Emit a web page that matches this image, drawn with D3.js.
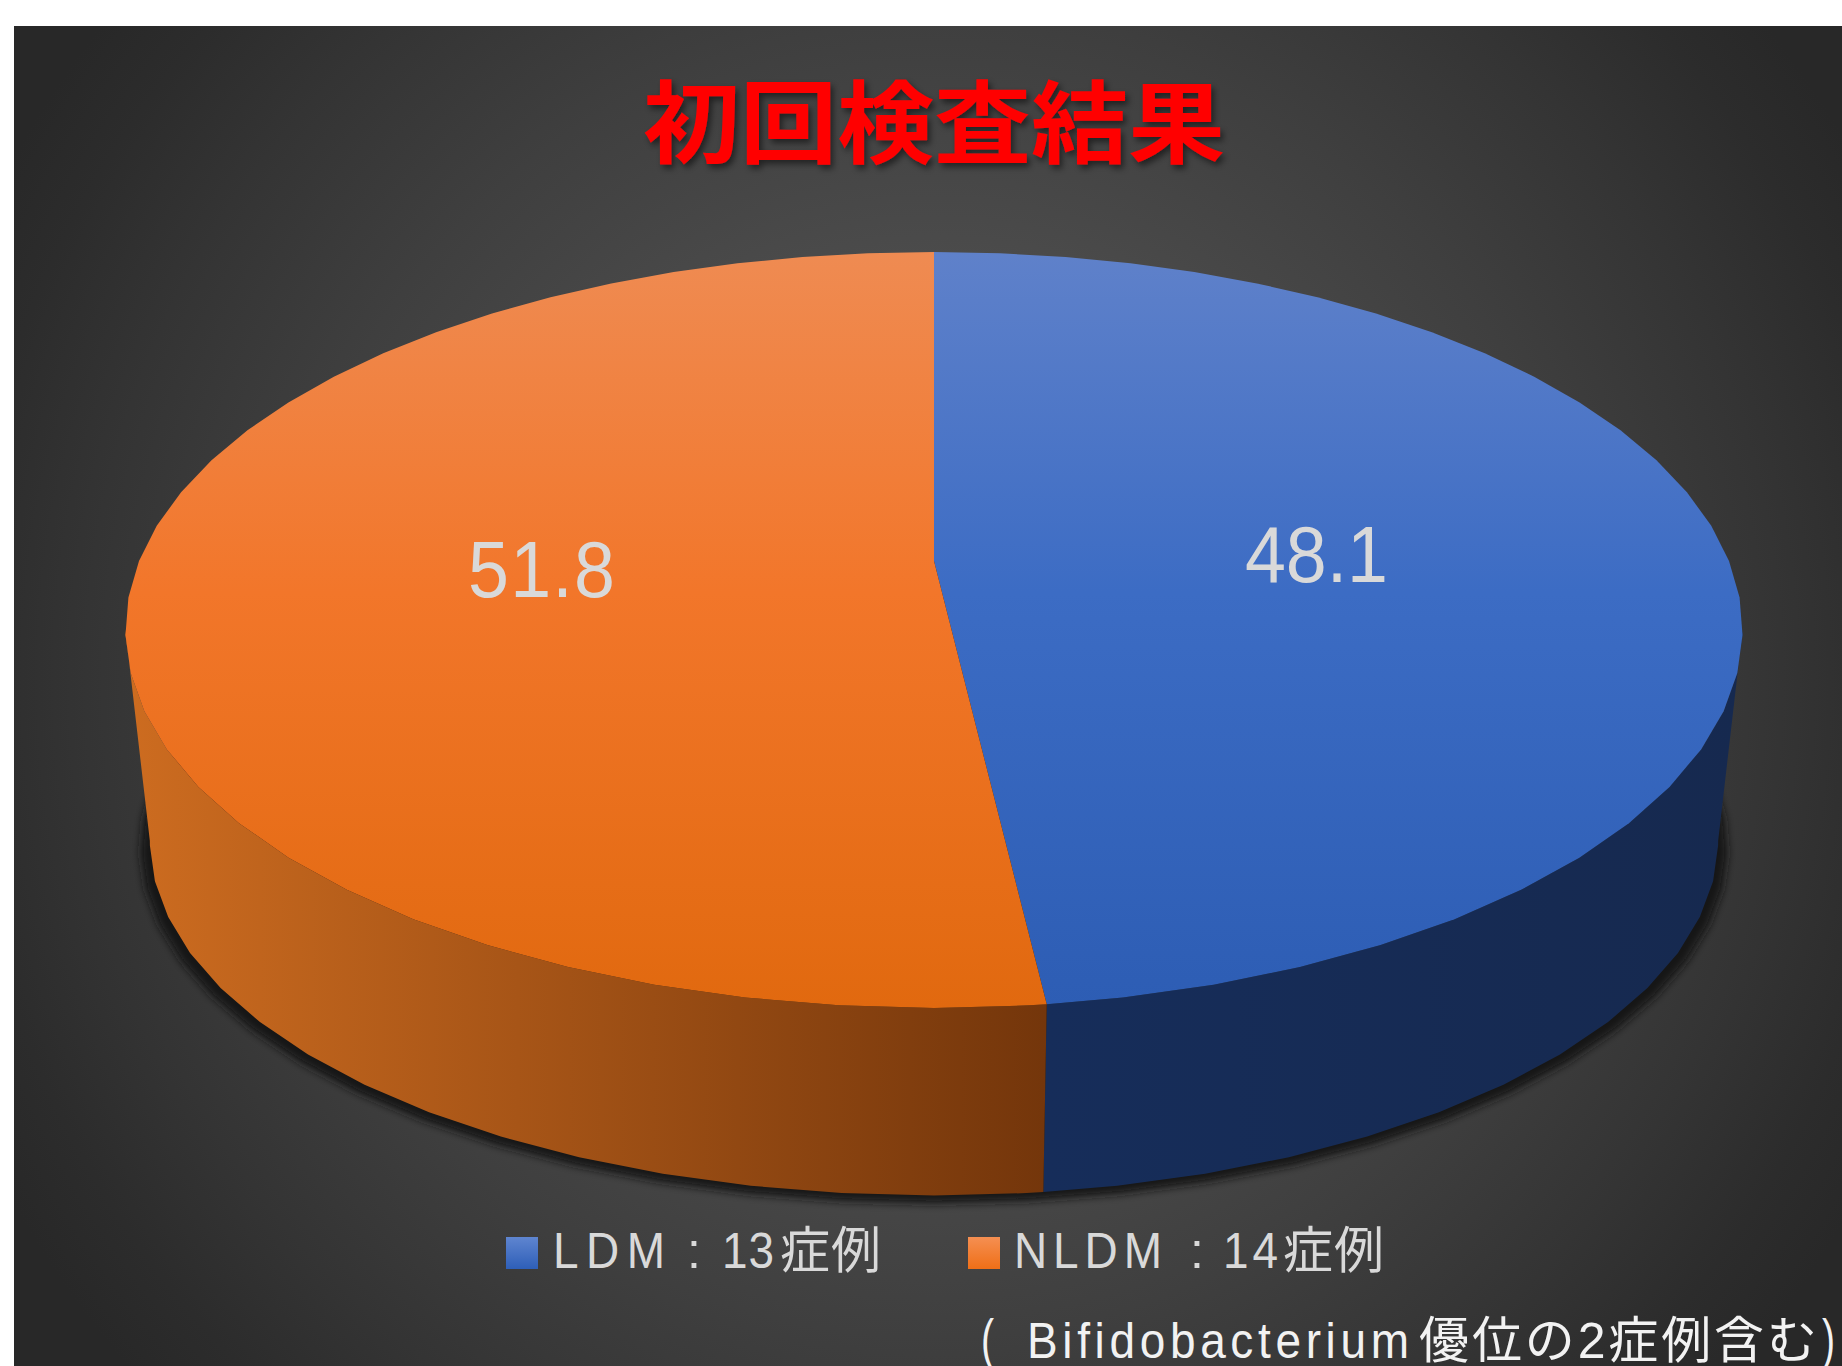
<!DOCTYPE html>
<html>
<head>
<meta charset="utf-8">
<style>
  html, body { margin: 0; padding: 0; background: #fff; }
  svg { display: block; }
  text { font-family: "Liberation Sans", "Noto Sans CJK JP", sans-serif; }
</style>
<script src="https://cdn.jsdelivr.net/npm/d3@7"></script>
</head>
<body>
<svg width="1842" height="1366"></svg>
<script>
(function () {
  "use strict";

  const categories = ["LDM", "NLDM"];
  const values = [48.1, 51.8];
  const caseCounts = ["13", "14"];
  const caseUnit = "症例";
  const titleText = "初回検査結果";
  const noteRuns = ["(", "Bifidobacterium", "優位の2症例含む", ")"];

  const topColors = [["#5f81ca", "#3c6cc4", "#2d5db4"], ["#ef8b52", "#f2762a", "#e1690f"]];
  const sideColors = [["#162d5a", "#16294f"], ["#74360b", "#cd6c20"]];

  const svg = d3.select("svg");
  const defs = svg.append("defs");
  const cx = 934;

  // the pie is drawn in perspective: a is the tilt, the two planes differ a bit
  const a = 0.1825;
  const topPlane = { k: 795, y0: 561, b: 365.4 };
  const lowPlane = { k: 771, y0: 776, b: 343 };
  const project = (p, t) => {
    const u = Math.sin(t);
    const v = -Math.cos(t);
    const d = 1 - a * v;
    return [cx + (p.k * u) / d, p.y0 + (p.b * v) / d];
  };

  // arc vertices, faceted like the original
  const facet = (Math.PI * 2) / 64;
  const arcAngles = (t0, t1) => {
    const inner = d3.range(Math.ceil(t0 / facet), Math.ceil(t1 / facet)).map((i) => i * facet);
    return [t0, ...inner.filter((t) => t > t0 && t < t1), t1];
  };
  const line = d3.line().curve(d3.curveLinearClosed);

  // background
  const bg = defs.append("radialGradient")
    .attr("id", "bg").attr("gradientUnits", "userSpaceOnUse")
    .attr("cx", cx).attr("cy", 680).attr("r", 1060);
  [[0, "#525252"], [0.4, "#4b4b4b"], [0.62, "#3f3f3f"], [0.8, "#343434"], [0.92, "#2c2c2c"], [1, "#282828"]]
    .forEach(([o, c]) => bg.append("stop").attr("offset", o).attr("stop-color", c));
  svg.append("rect").attr("x", 14).attr("y", 26).attr("width", 1828).attr("height", 1340).attr("fill", "url(#bg)");

  // gradients
  categories.forEach((c, i) => {
    const g = defs.append("linearGradient").attr("id", "top" + i)
      .attr("gradientUnits", "userSpaceOnUse")
      .attr("x1", 0).attr("x2", 0).attr("y1", 252).attr("y2", 1008);
    g.append("stop").attr("offset", 0).attr("stop-color", topColors[i][0]);
    g.append("stop").attr("offset", 0.45).attr("stop-color", topColors[i][1]);
    g.append("stop").attr("offset", 1).attr("stop-color", topColors[i][2]);

    const s = defs.append("linearGradient").attr("id", "side" + i)
      .attr("gradientUnits", "userSpaceOnUse")
      .attr("x1", 1045).attr("x2", i ? 125 : 1743).attr("y1", 0).attr("y2", 0);
    s.append("stop").attr("offset", 0).attr("stop-color", sideColors[i][0]);
    s.append("stop").attr("offset", 1).attr("stop-color", sideColors[i][1]);

    const l = defs.append("linearGradient").attr("id", "swatch" + i)
      .attr("x1", 0).attr("x2", 0).attr("y1", 0).attr("y2", 1);
    l.append("stop").attr("offset", 0).attr("stop-color", i ? "#f58f52" : "#5f85d0");
    l.append("stop").attr("offset", 1).attr("stop-color", i ? "#ef6f17" : "#2e5fb8");
  });

  const blur = defs.append("filter").attr("id", "blur")
    .attr("filterUnits", "userSpaceOnUse")
    .attr("x", 0).attr("y", 500).attr("width", 1842).attr("height", 866);
  blur.append("feGaussianBlur").attr("stdDeviation", 4);

  const textShadow = defs.append("filter").attr("id", "textShadow")
    .attr("x", "-5%").attr("y", "-10%").attr("width", "110%").attr("height", "125%");
  textShadow.append("feDropShadow").attr("dx", 3).attr("dy", 4).attr("stdDeviation", 3)
    .attr("flood-color", "#000").attr("flood-opacity", 0.5);

  // shadow under the pie
  svg.append("path")
    .attr("d", line(arcAngles(0, Math.PI * 2).map((t) => {
      const p = project(lowPlane, t);
      return [cx + (p[0] - cx) * 1.012, p[1] + 8];
    })))
    .attr("fill", "#141414")
    .attr("filter", "url(#blur)");

  const pie = d3.pie().sort(null).value((d) => d);
  const arcs = pie(values);

  // silhouette angles of the side wall
  const rightEdge = Math.acos(-a);
  const leftEdge = Math.PI * 2 - rightEdge;

  arcs.forEach((d, i) => {
    const t0 = Math.max(d.startAngle, rightEdge);
    const t1 = Math.min(d.endAngle, leftEdge);
    const ts = arcAngles(t0, t1);
    const pts = ts.map((t) => project(topPlane, t))
      .concat(ts.slice().reverse().map((t) => project(lowPlane, t)));
    svg.append("path").attr("d", line(pts)).attr("fill", `url(#side${i})`);
  });

  arcs.forEach((d, i) => {
    const pts = [[cx, topPlane.y0]].concat(arcAngles(d.startAngle, d.endAngle).map((t) => project(topPlane, t)));
    svg.append("path").attr("d", line(pts)).attr("fill", `url(#top${i})`);
  });

  // run of text starting at x. sx narrows the glyphs, width stretches the gaps to fit
  const run = (str, x, y, size, fill, sx, width) => {
    const t = svg.append("text")
      .attr("transform", `translate(${x},${y}) scale(${sx},1)`)
      .attr("font-size", size)
      .attr("fill", fill)
      .text(str);
    if (width) t.attr("textLength", width / sx).attr("lengthAdjust", "spacing");
    return t;
  };

  // value labels
  const labelX = [1245, 468];
  const labelY = [582, 597];
  const labelWidth = [143, 147];
  values.forEach((d, i) => run(d.toFixed(1), labelX[i], labelY[i], 80, "#d9d9d9", 0.92, labelWidth[i]));

  // title
  svg.append("text")
    .attr("x", cx).attr("y", 156)
    .attr("text-anchor", "middle")
    .attr("font-size", 90)
    .attr("font-weight", 700)
    .attr("fill", "#ff0000")
    .attr("filter", "url(#textShadow)")
    .attr("textLength", 582)
    .attr("lengthAdjust", "spacingAndGlyphs")
    .text(titleText);

  // legend, each piece placed apart because the original spaces them unevenly
  const swatchX = [506, 968];
  const nameX = [[553, 112], [1014, 148]];
  const colonX = [687, 1190];
  const countX = [[722, 52], [1223, 55]];
  const unitX = [[780, 101], [1283, 101]];
  categories.forEach((c, i) => {
    svg.append("rect")
      .attr("x", swatchX[i]).attr("y", 1237).attr("width", 32).attr("height", 32)
      .attr("fill", `url(#swatch${i})`);
    run(c, nameX[i][0], 1268, 50, "#d9d9d9", 0.92, nameX[i][1]);
    run(":", colonX[i], 1268, 50, "#d9d9d9", 1);
    run(caseCounts[i], countX[i][0], 1268, 50, "#d9d9d9", 0.92, countX[i][1]);
    run(caseUnit, unitX[i][0], 1268, 50, "#d9d9d9", 1, unitX[i][1]);
  });

  // note under the legend
  const noteX = [981, 1027, 1419, 1822];
  const noteWidth = [null, 382, 398, null];
  const noteSize = [56, 50, 50, 56];
  const noteNarrow = [0.7, 0.92, 1, 0.7];
  noteRuns.forEach((str, i) => {
    run(str, noteX[i], 1358, noteSize[i], "#f2f2f2", noteNarrow[i], noteWidth[i]);
  });
})();
</script>
</body>
</html>
